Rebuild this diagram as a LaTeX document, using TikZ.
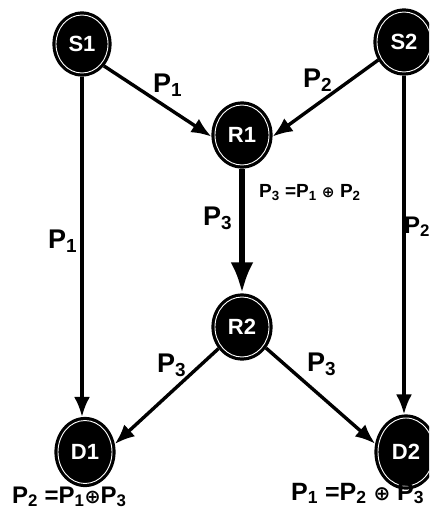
\documentclass[tikz,border=0pt]{standalone}
\usepackage{fontspec}
\setmainfont{Liberation Sans}
\newfontfamily\symfont{DejaVu Sans}
\usetikzlibrary{arrows.meta,shapes.geometric}
\newcommand{\xorop}{{\symfont\bfseries\scalebox{0.8}{⊕}}}
\begin{document}
\begin{tikzpicture}[x=1pt,y=-1pt,
  netnode/.style={ellipse, fill=black, draw=black, line width=1.2pt,
    inner sep=0pt, text=white, font=\bfseries\fontsize{22}{22}\selectfont},
  flow/.style={line width=3.4pt, -{Latex[length=20pt,width=16pt]}},
  heavyflow/.style={line width=6pt, -{Latex[length=31pt,width=23pt]}},
  plabel/.style={font=\bfseries\fontsize{27}{27}\selectfont, inner sep=0pt, anchor=base west},
]
\useasboundingbox (0,0) rectangle (429,512);
\clip (0,0) rectangle (429,512);
\fill[white] (0,0) rectangle (429,512);

% sources, relays and destinations
\node[netnode, minimum width=58pt, minimum height=64pt] (S1) at (82,44) {S1};
\node[netnode, minimum width=60pt, minimum height=66pt] (S2) at (404,42) {S2};
\node[netnode, minimum width=60pt, minimum height=66pt] (R1) at (242,135) {R1};
\node[netnode, minimum width=60pt, minimum height=66pt] (R2) at (242,327) {R2};
\node[netnode, minimum width=60pt, minimum height=69pt] (D1) at (85,452) {D1};
\node[netnode, minimum width=62pt, minimum height=74pt] (D2) at (406,452) {D2};

% thin white rim inside each node
\foreach \n/\w/\h in {S1/52/58, S2/54/60, R1/54/60, R2/54/60, D1/54/63, D2/56/68}
  \draw[white, line width=0.9pt] (\n.center) ellipse [x radius=\w/2, y radius=\h/2];

% connectors
\draw[flow] (S1.-45) -- (R1.183);
\draw[flow] (S2.215) -- (R1.-3);
\draw[flow] (S1.south) -- (S1.south |- D1.north);
\draw[flow] (S2.south) -- (S2.south |- D2.north);
\draw[heavyflow] (R1.south) -- (R2.north);
\draw[flow] (R2) -- (D1.15);
\draw[flow] (R2) -- (D2.165);

% packet labels
\node[plabel] (l1) at (153,92) {P\textsubscript{1}};
\node[plabel] (l2) at (303,87) {P\textsubscript{2}};
\node[plabel] (l3) at (48,248) {P\textsubscript{1}};
\node[plabel, font=\bfseries\fontsize{24}{24}\selectfont] (l4) at (404,233) {P\textsubscript{2}};
\node[plabel] (l5) at (203,225) {P\textsubscript{3}};
\node[plabel] (l6) at (157,372) {P\textsubscript{3}};
\node[plabel] (l7) at (307,371) {P\textsubscript{3}};

% coding equations
\node[plabel, font=\bfseries\fontsize{19}{19}\selectfont] (e1) at (259,197)
  {P\textsubscript{3} =P\textsubscript{1} \xorop{} P\textsubscript{2}};
\node[plabel, font=\bfseries\fontsize{24}{24}\selectfont] (e2) at (12,503)
  {P\textsubscript{2} =P\textsubscript{1}\xorop{}P\textsubscript{3}};
\node[plabel, font=\bfseries\fontsize{25}{25}\selectfont] (e3) at (291,500)
  {P\textsubscript{1} =P\textsubscript{2} \xorop{} P\textsubscript{3}};
\end{tikzpicture}
\end{document}
